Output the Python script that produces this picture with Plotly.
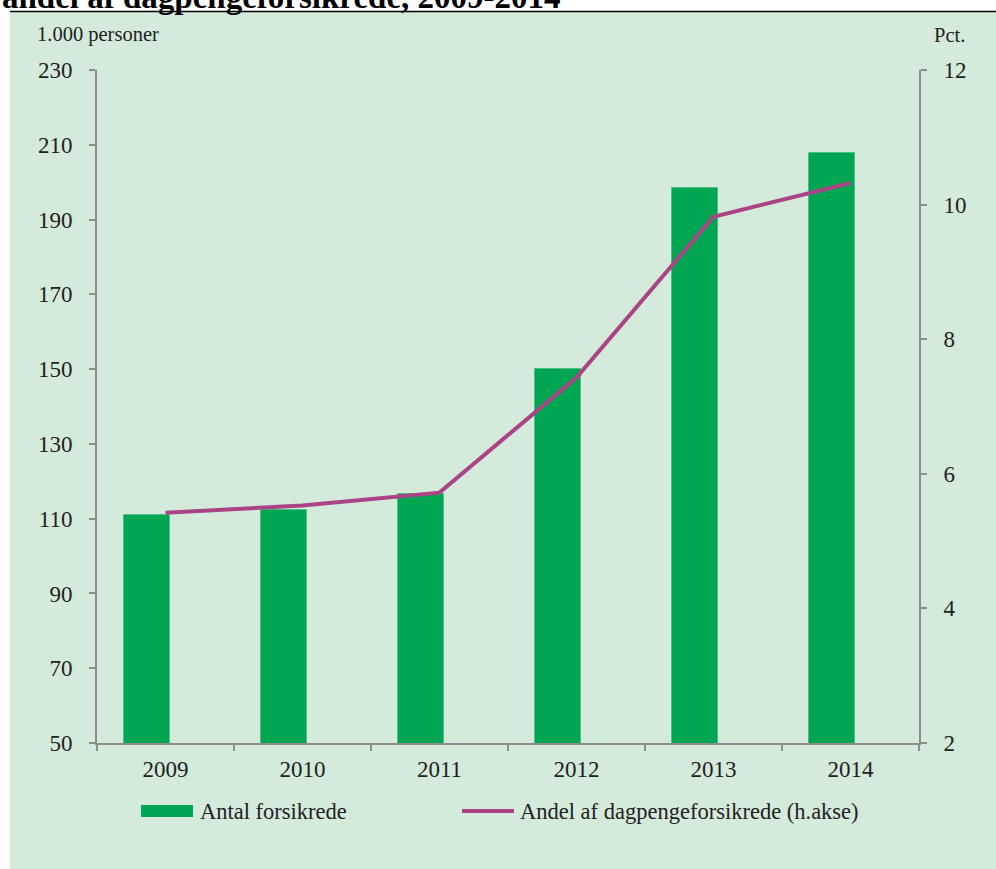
import plotly.graph_objects as go

# ---- data ----
years = ["2009", "2010", "2011", "2012", "2013", "2014"]
antal_forsikrede = [111.1, 112.4, 116.7, 149.9, 198.4, 207.7]   # 1.000 personer
andel_pct = [5.42, 5.53, 5.72, 7.43, 9.82, 10.32]                # pct. (h.akse)
left_ticks = [50, 70, 90, 110, 130, 150, 170, 190, 210, 230]
right_ticks = [2, 4, 6, 8, 10, 12]

title_text = "andel af dagpengeforsikrede, 2009-2014"
left_title = "1.000 personer"
right_title = "Pct."
bar_name = "Antal forsikrede"
line_name = "Andel af dagpengeforsikrede (h.akse)"

# ---- style ----
W, H = 996, 869
L, R, T, B = 97, 919, 70, 743
PANEL = "#d4eadb"
GREEN = "#00a651"
MAGENTA = "#ab4486"
AXIS = "#8c8c8c"
FONT = "Liberation Serif"
TXT = "#222222"


def px(x):
    return (x - L) / (R - L)


def py(y):
    return (B - y) / (B - T)


fig = go.Figure()
fig.add_trace(go.Bar(
    x=years, y=antal_forsikrede, name=bar_name,
    marker=dict(color=GREEN, line=dict(color="#4dbf82", width=1)),
    width=0.335, offset=-0.303, showlegend=False,
))
fig.add_trace(go.Scatter(
    x=years, y=andel_pct, name=line_name, yaxis="y2", mode="lines",
    line=dict(color=MAGENTA, width=4), showlegend=False,
))

axis_common = dict(showline=True, linecolor=AXIS, linewidth=2, ticks="outside",
                   tickcolor=AXIS, tickwidth=2, showgrid=False, zeroline=False,
                   tickfont=dict(family=FONT, size=23, color=TXT))

fig.update_layout(
    width=W, height=H,
    margin=dict(l=L, r=W - R, t=T, b=H - B, pad=0),
    paper_bgcolor=PANEL, plot_bgcolor=PANEL,
    font=dict(family=FONT, color=TXT),
    bargap=0,
    xaxis=dict(type="category", range=[-0.5, 5.5], tickson="boundaries",
               ticklen=6, ticklabelstandoff=4, **axis_common),
    yaxis=dict(range=[50, 230], tickvals=left_ticks, ticklen=6,
               ticklabelstandoff=12, **axis_common),
    yaxis2=dict(range=[2, 12], tickvals=right_ticks, overlaying="y", side="right",
                ticklen=6, ticklabelstandoff=12, **axis_common),
    showlegend=False,
)

shapes = [
    # white frame strips outside the panel
    dict(type="rect", xref="paper", yref="paper", x0=px(-5), x1=px(10), y0=py(H + 5), y1=py(-5),
         fillcolor="white", line=dict(width=0), layer="above"),
    dict(type="rect", xref="paper", yref="paper", x0=px(-5), x1=px(W + 5), y0=py(11), y1=py(-5),
         fillcolor="white", line=dict(width=0), layer="above"),
    # black rule under the title
    dict(type="line", xref="paper", yref="paper", x0=px(10), x1=px(W + 2), y0=py(11.5), y1=py(11.5),
         line=dict(color="black", width=1.5), layer="above"),
    # legend swatches
    dict(type="rect", xref="paper", yref="paper", x0=px(141), x1=px(193), y0=py(817), y1=py(805),
         fillcolor=GREEN, line=dict(width=0)),
    dict(type="line", xref="paper", yref="paper", x0=px(462), x1=px(514), y0=py(811), y1=py(811),
         line=dict(color=MAGENTA, width=4)),
]
fig.update_layout(shapes=shapes)

ann = [
    dict(text="<b>" + title_text + "</b>", x=px(0), y=py(17), xanchor="left", yanchor="bottom",
         font=dict(family=FONT, size=33, color="black"), showarrow=False),
    dict(text=left_title, x=px(35), y=py(35), xanchor="left", yanchor="middle",
         font=dict(family=FONT, size=20.5, color=TXT), showarrow=False),
    dict(text=right_title, x=px(932), y=py(35), xanchor="left", yanchor="middle",
         font=dict(family=FONT, size=20.5, color=TXT), showarrow=False),
    dict(text=bar_name, x=px(198), y=py(811), xanchor="left", yanchor="middle",
         font=dict(family=FONT, size=22.5, color=TXT), showarrow=False),
    dict(text=line_name, x=px(518), y=py(811), xanchor="left", yanchor="middle",
         font=dict(family=FONT, size=22.5, color=TXT), showarrow=False),
]
for a in ann:
    a.update(xref="paper", yref="paper")
fig.update_layout(annotations=ann)

fig.write_html("out.html", config={"displayModeBar": False},
               post_script="document.body.style.margin='0';")
